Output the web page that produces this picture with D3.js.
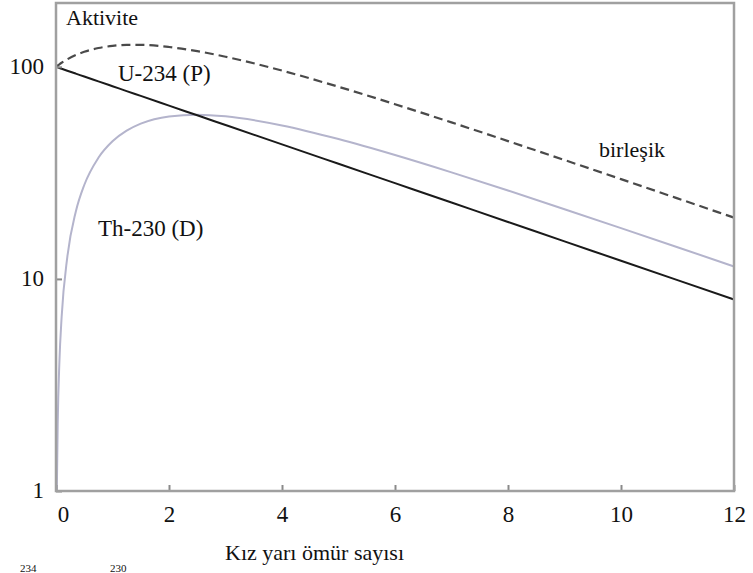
<!DOCTYPE html>
<html>
<head>
<meta charset="utf-8">
<script src="https://cdn.jsdelivr.net/npm/d3@7"></script>
<style>
  html, body { margin: 0; padding: 0; background: #fff; }
  svg { display: block; }
</style>
</head>
<body>
<svg id="chart" width="753" height="573"></svg>
<script>
// Time in daughter half-lives
const halfLives = [0, 0.0145, 0.03, 0.06, 0.1, 0.2, 0.35, 0.5, 0.75, 1, 1.25, 1.5, 2, 2.5, 3, 4, 5, 6, 7, 8, 9, 10, 11, 12];
// U-234 parent activity
const parentActivity = [100, 99.7, 99.37, 98.75, 97.92, 95.88, 92.90, 90.01, 85.40, 81.02, 76.86, 72.93, 65.64, 59.08, 53.18, 43.09, 34.91, 28.28, 22.91, 18.56, 15.04, 12.18, 9.87, 8.00];
// Th-230 daughter activity (undefined at t = 0 on a log axis)
const daughterActivity = [null, 1.0, 2.05, 4.05, 6.63, 12.67, 20.74, 27.72, 37.25, 44.55, 50.00, 53.96, 58.37, 59.47, 58.43, 52.90, 45.64, 38.37, 31.79, 26.10, 21.32, 17.36, 14.11, 11.45];
// Combined activity
const combinedActivity = [100, 100.7, 101.42, 102.80, 104.55, 108.55, 113.64, 117.73, 122.65, 125.57, 126.86, 126.89, 124.01, 118.55, 111.61, 95.99, 80.55, 66.65, 54.70, 44.66, 36.36, 29.54, 23.98, 19.45];

const xTicks = [0, 2, 4, 6, 8, 10, 12];
const yTicks = [1, 10, 100];

const serif = '"Liberation Serif"';
const svg = d3.select("#chart");
const plot = { left: 56, right: 734, top: 3, bottom: 491 };

const x = d3.scaleLinear().domain([0, 12]).range([plot.left, plot.right]);
const y = d3.scaleLog().domain([1, 200]).range([plot.bottom, plot.top]);

// Curves
const line = d3.line()
  .defined(d => d[1] != null)
  .x(d => x(d[0]))
  .y(d => y(d[1]))
  .curve(d3.curveMonotoneX);

const zip = vals => halfLives.map((t, i) => [t, vals[i]]);

svg.append("path")
  .datum(zip(daughterActivity))
  .attr("d", line)
  .attr("fill", "none")
  .attr("stroke", "#b4b4cc")
  .attr("stroke-width", 2);

svg.append("path")
  .datum(zip(parentActivity))
  .attr("d", line)
  .attr("fill", "none")
  .attr("stroke", "#1a1a1a")
  .attr("stroke-width", 2);

svg.append("path")
  .datum(zip(combinedActivity))
  .attr("d", line)
  .attr("fill", "none")
  .attr("stroke", "#4a4a4a")
  .attr("stroke-width", 2.2)
  .attr("stroke-dasharray", "9,5");

// Axes with inward ticks
const xAxis = svg.append("g")
  .attr("transform", `translate(0,${plot.bottom})`)
  .call(d3.axisBottom(x).tickValues(xTicks).tickSize(-6).tickPadding(10).tickFormat(d3.format("d")));
const yAxis = svg.append("g")
  .attr("transform", `translate(${plot.left},0)`)
  .call(d3.axisLeft(y).tickValues(yTicks).tickSize(-6).tickPadding(12).tickFormat(d3.format("d")));

[xAxis, yAxis].forEach(g => {
  g.attr("font-family", null).attr("font-size", null);
  g.select(".domain").remove();
  g.selectAll(".tick line").attr("stroke", "#8a8a8a").attr("stroke-width", 2);
  g.selectAll(".tick text")
    .style("font-family", serif)
    .style("font-size", "23px")
    .attr("fill", "#111");
});
xAxis.selectAll(".tick text").attr("dy", "0.9em");
xAxis.selectAll(".tick").filter(d => d === 0).select("text").attr("dx", 7);
yAxis.selectAll(".tick text").attr("dy", "0.3em");

// Frame
svg.append("rect")
  .attr("x", plot.left).attr("y", plot.top)
  .attr("width", plot.right - plot.left).attr("height", plot.bottom - plot.top)
  .attr("fill", "none")
  .attr("stroke", "#a0a0a0")
  .attr("stroke-width", 2.5);

// Labels
const label = (txt, px, py, size) => svg.append("text")
  .attr("x", px).attr("y", py)
  .style("font-family", serif)
  .style("font-size", size + "px")
  .attr("fill", "#111")
  .text(txt);

label("Aktivite", 66, 25, 22);
label("U-234 (P)", 118, 81, 23);
label("Th-230 (D)", 98, 236, 23);
label("birleşik", 599, 157, 22);
label("Kız yarı ömür sayısı", 225, 560, 22);
label("234", 20, 572, 11);
label("230", 110, 572, 11);
</script>
</body>
</html>
